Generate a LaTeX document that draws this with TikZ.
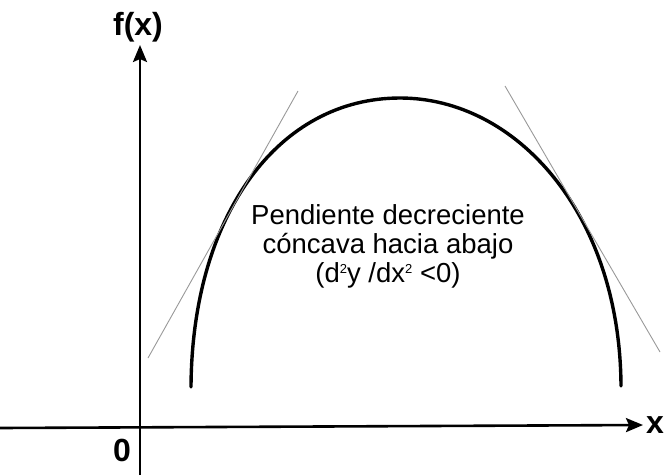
\documentclass[tikz,border=0pt]{standalone}
\usepackage{fontspec}
\setmainfont{Liberation Sans}
\usetikzlibrary{arrows.meta,positioning}

\newcommand{\sq}{\raisebox{9pt}{\fontsize{13}{13}\selectfont 2}}

\begin{document}
\begin{tikzpicture}[x=1pt,y=-1pt,
        eje/.style={line width=2.6pt, -{Stealth[length=17pt,width=14pt,inset=3pt]}},
        curva/.style={line width=3.4pt, line cap=round},
        tangente/.style={line width=0.9pt, gray!80},
        etiqueta/.style={font=\fontsize{32}{34}\selectfont\bfseries, inner sep=0pt},
        texto/.style={font=\fontsize{27.5}{29}\selectfont, align=center, inner sep=0pt}]
    \useasboundingbox (0,0) rectangle (664,475);

    % ejes
    \coordinate (yb) at (140,475);
    \coordinate (yt) at (140,45);
    \coordinate (xl) at (0,428);
    \coordinate (xr) at (643,425);
    \draw[eje] (yb) -- (yt);
    \draw[eje] (xl) -- (xr);
    \node[etiqueta] (fx) at (138,27) {f(x)};
    \node[etiqueta] (xlab) at (655,425) {x};
    \node[etiqueta] (cero) at (122,450) {0};

    % curva concava
    \coordinate (ci) at (191,387);
    \coordinate (cm) at (400,98);
    \coordinate (cd) at (621,386);
    \draw[curva] (ci) .. controls (192,214) and (279,98) .. (cm)
        .. controls (516,98) and (620,213) .. (cd);

    % tangentes
    \coordinate (t1a) at (148,358);
    \coordinate (t1b) at (298,91);
    \coordinate (t2a) at (505,86);
    \coordinate (t2b) at (660,352);
    \draw[tangente] (t1a) -- (t1b);
    \draw[tangente] (t2a) -- (t2b);

    \node[texto] (nota) at (388,246) {Pendiente decreciente\\c\'oncava hacia abajo\\(d\sq y /dx\sq\ <0)};
\end{tikzpicture}
\end{document}
